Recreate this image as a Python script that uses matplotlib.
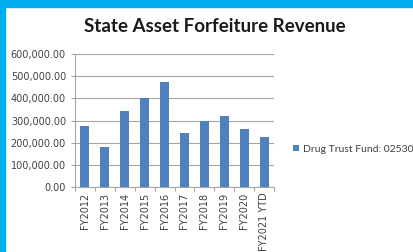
import matplotlib.pyplot as plt
import matplotlib.patches as mpatches
from matplotlib.ticker import FuncFormatter

years = ['FY2012', 'FY2013', 'FY2014', 'FY2015', 'FY2016', 'FY2017',
         'FY2018', 'FY2019', 'FY2020', 'FY2021 YTD']
revenue = [275000, 182000, 341000, 400000, 474000, 244000,
           298000, 319000, 262000, 227000]
y_ticks = [0, 100000, 200000, 300000, 400000, 500000, 600000]

bar_color = '#4F81BD'
border = '#00AEEF'

fig = plt.figure(figsize=(4.14, 2.52), dpi=100)
# cyan frame on top and left
fig.patches.append(mpatches.Rectangle((0, 1 - 7/252), 1, 7/252, transform=fig.transFigure,
                                      color=border, zorder=0))
fig.patches.append(mpatches.Rectangle((0, 0), 5/414, 1, transform=fig.transFigure,
                                      color=border, zorder=0))

ax = fig.add_axes([75/414, 1 - 187/252, 199/414, 133/252])
x = range(len(years))
bars = ax.bar(x, revenue, width=0.45, color=bar_color, zorder=3,
              label='Drug Trust Fund: 02530')
ax.set_ylim(0, 600000)
ax.set_xlim(-0.5, len(years) - 0.5)
ax.set_yticks(y_ticks)
ax.yaxis.set_major_formatter(FuncFormatter(lambda v, p: f'{v:,.2f}'))
ax.grid(axis='y', color='#a6a6a6', linewidth=0.8, zorder=0)
ax.set_xticks(list(x))
ax.set_xticklabels(years, rotation=90, fontsize=7, color='#404040')
ax.tick_params(axis='x', length=0, pad=4)
ax.tick_params(axis='y', labelsize=7, labelcolor='#404040', length=3,
               color='#a6a6a6', width=0.8)
# category boundary ticks
ax.set_xticks([i - 0.5 for i in range(len(years) + 1)], minor=True)
ax.tick_params(axis='x', which='minor', length=3, color='#a6a6a6', width=0.8)
for s in ['top', 'right']:
    ax.spines[s].set_visible(False)
for s in ['left', 'bottom']:
    ax.spines[s].set_color('#a6a6a6')
    ax.spines[s].set_linewidth(0.8)

fig.text(215/414, 1 - 27/252, 'State Asset Forfeiture Revenue', ha='center', va='center',
         fontsize=13.5, fontweight='bold', family='Lato', color='#1a1a1a')

fig.legend(handles=[bars], loc='center left', bbox_to_anchor=(289/414, 1 - 149/252),
           frameon=False, handlelength=0.6, handleheight=0.6,
           handletextpad=0.3, borderaxespad=0, labelcolor='#404040',
           prop={'family': 'Lato', 'size': 7.5})

fig.savefig('out.png', dpi=100)
